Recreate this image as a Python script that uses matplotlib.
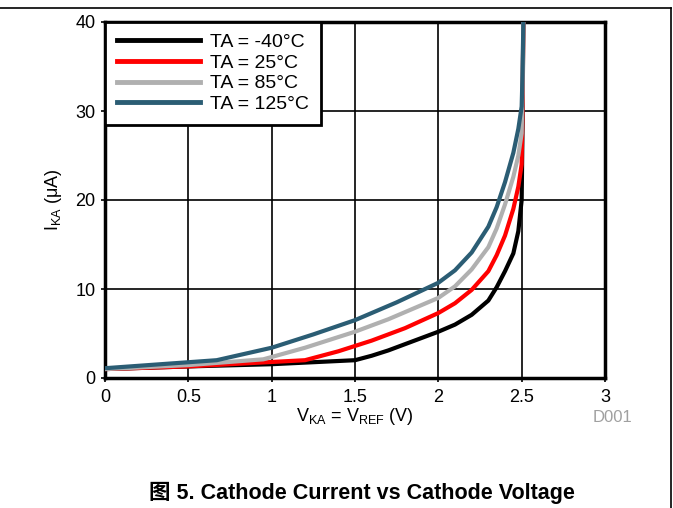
import matplotlib
import numpy as np
from matplotlib import pyplot as plt
from matplotlib.lines import Line2D

matplotlib.rcParams["font.family"] = ["Liberation Sans", "Noto Sans CJK SC", "DejaVu Sans"]
matplotlib.rcParams["font.size"] = 13

# TA = -40°C
v_m40 = [0, 0.5, 1.0, 1.5, 1.6, 1.7, 1.8, 1.9, 2.0, 2.1, 2.2, 2.3, 2.35, 2.4, 2.45, 2.48, 2.5, 2.505, 2.51]
i_m40 = [1.0, 1.3, 1.55, 2.0, 2.5, 3.1, 3.8, 4.5, 5.2, 6.0, 7.1, 8.7, 10.2, 12.0, 14.0, 16.5, 20.0, 28.0, 40.0]
# TA = 25°C
v_25 = [0, 0.5, 1.0, 1.2, 1.4, 1.6, 1.8, 2.0, 2.1, 2.2, 2.3, 2.35, 2.4, 2.45, 2.48, 2.5, 2.505, 2.51]
i_25 = [1.0, 1.3, 1.8, 2.0, 3.0, 4.2, 5.6, 7.3, 8.4, 9.9, 12.0, 13.8, 16.0, 19.0, 21.5, 24.0, 30.0, 40.0]
# TA = 85°C
v_85 = [0, 0.5, 0.95, 1.2, 1.5, 1.7, 2.0, 2.1, 2.2, 2.3, 2.35, 2.4, 2.45, 2.48, 2.5, 2.505, 2.51]
i_85 = [1.0, 1.45, 2.1, 3.4, 5.2, 6.6, 9.0, 10.3, 12.2, 14.7, 16.8, 19.5, 22.6, 25.0, 27.5, 32.0, 40.0]
# TA = 125°C
v_125 = [0, 0.67, 1.0, 1.25, 1.5, 1.75, 2.0, 2.1, 2.2, 2.3, 2.35, 2.4, 2.45, 2.48, 2.5, 2.505, 2.51]
i_125 = [1.1, 2.0, 3.4, 4.9, 6.5, 8.5, 10.7, 12.1, 14.1, 17.0, 19.2, 22.0, 25.3, 28.0, 30.5, 34.0, 40.0]

labels = ["TA = -40°C", "TA = 25°C", "TA = 85°C", "TA = 125°C"]
colors = ["#000000", "#ff0000", "#b0b0b0", "#2b5d74"]

fig = plt.figure(figsize=(6.73, 5.08), dpi=100)
ax = fig.add_axes([105 / 673, 1 - 378 / 508, 500 / 673, 356 / 508])

series = [(v_m40, i_m40), (v_25, i_25), (v_85, i_85), (v_125, i_125)]
for (v, i), c, lab in zip(series, colors, labels):
    ax.plot(v, i, color=c, lw=3, label=lab, solid_joinstyle="round", zorder=3)

ax.set_xlim(0, 3)
ax.set_ylim(0, 40)
ax.set_xticks([0, 0.5, 1, 1.5, 2, 2.5, 3])
ax.set_xticklabels(["0", "0.5", "1", "1.5", "2", "2.5", "3"])
ax.set_yticks([0, 10, 20, 30, 40])
ax.grid(True, color="black", lw=1.2)
ax.tick_params(direction="out", length=3, width=1.2, labelsize=13)
ax.tick_params(axis="x", pad=5)
ax.tick_params(axis="y", pad=4)
for s in ax.spines.values():
    s.set_linewidth(2.5)

ax.set_xlabel("V$_\\mathregular{KA}$ = V$_\\mathregular{REF}$ (V)", fontsize=13, labelpad=0)
ax.set_ylabel("I$_\\mathregular{KA}$ (\u03bcA)", fontsize=13, labelpad=8)

leg = ax.legend(loc="upper left", bbox_to_anchor=(0, 1), fontsize=14, handlelength=4.3,
                borderaxespad=0, fancybox=False, framealpha=1, edgecolor="black",
                labelspacing=0.15, handletextpad=0.5, borderpad=0.6)
leg.get_frame().set_linewidth(2)
for h in leg.get_lines():
    h.set_linewidth(3.5)

fig.text(632 / 673, 1 - 418 / 508, "D001", color="#a0a0a0", fontsize=12, ha="right", va="center")
fig.text(362 / 673, 1 - 493 / 508, "图 5. Cathode Current vs Cathode Voltage", fontsize=15.5,
         fontweight="bold", ha="center", va="center")

fig.add_artist(Line2D([0, 671 / 673], [1 - 8 / 508, 1 - 8 / 508], color="black", lw=1.2))
fig.add_artist(Line2D([671 / 673, 671 / 673], [1 - 8 / 508, 0], color="black", lw=1.2))

fig.savefig("out.png", dpi=100)
